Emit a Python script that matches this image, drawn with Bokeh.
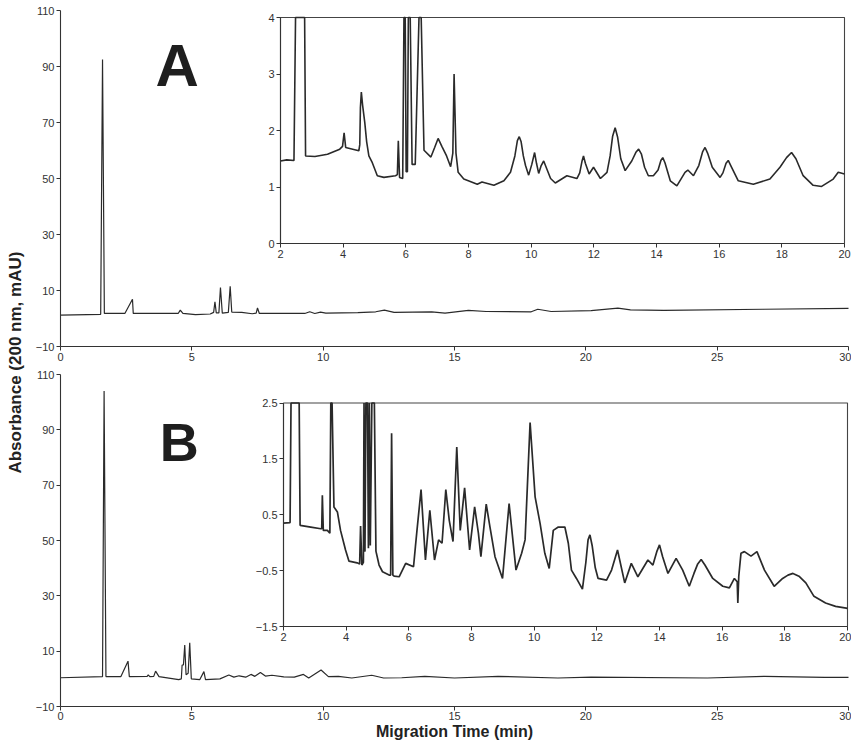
import math
from bokeh.plotting import figure
from bokeh.models import Range1d, LinearAxis, FixedTicker, Label
from bokeh.embed import file_html
from bokeh.resources import INLINE

# ---------------- data ----------------
# Panel A, full run (mAU)
A_main_time = [0.00, 1.53, 1.60, 1.67, 2.45, 2.74, 2.77, 4.48, 4.56, 4.66, 5.14, 5.70, 5.83,
               5.88, 5.93, 6.03, 6.09, 6.16, 6.39, 6.46, 6.52, 6.90, 7.30, 7.45, 7.50, 7.57,
               9.30, 9.49, 9.68, 9.90, 10.10, 11.32, 12.00, 12.33, 12.70, 14.13, 14.64, 15.53,
               16.20, 17.92, 18.17, 18.68, 20.20, 21.22, 21.70, 22.97, 26.77, 30.00]
A_main_abs = [1.2, 1.5, 92.5, 1.8, 1.8, 6.9, 1.8, 1.8, 3.0, 1.8, 1.4, 1.6, 2.2,
              6.0, 2.0, 2.0, 11.1, 1.9, 2.2, 11.5, 2.3, 2.2, 1.7, 1.9, 3.8, 1.8,
              1.8, 2.4, 1.8, 2.3, 1.9, 2.1, 2.4, 3.0, 2.2, 2.4, 1.9, 2.9,
              2.5, 2.4, 3.3, 2.5, 2.8, 3.7, 3.1, 2.9, 3.3, 3.6]

# Panel A inset (2-20 min, 0-4 mAU; off-scale peaks recorded at the top, 4)
A_inset_time = [2.00, 2.20, 2.43, 2.48, 2.77, 2.80, 3.10, 3.50, 3.89, 3.98, 4.03, 4.08, 4.50,
                4.53, 4.55, 4.58, 4.62, 4.69, 4.75, 4.82, 4.93, 5.09, 5.30, 5.67, 5.73, 5.76,
                5.80, 5.90, 5.94, 5.98, 6.01, 6.05, 6.08, 6.14, 6.20, 6.30, 6.42, 6.49, 6.58,
                6.80, 6.92, 7.03, 7.15, 7.30, 7.43, 7.50, 7.54, 7.60, 7.67, 7.85, 8.28, 8.43,
                8.81, 9.13, 9.34, 9.48, 9.56, 9.62, 9.68, 9.75, 9.82, 9.92, 10.02, 10.11, 10.17,
                10.24, 10.32, 10.40, 10.50, 10.62, 10.77, 11.14, 11.46, 11.55, 11.62, 11.67,
                11.73, 11.85, 11.99, 12.21, 12.42, 12.52, 12.60, 12.68, 12.76, 12.86, 13.00,
                13.21, 13.35, 13.43, 13.52, 13.62, 13.74, 13.90, 14.05, 14.14, 14.20, 14.27,
                14.44, 14.65, 14.91, 15.00, 15.18, 15.35, 15.47, 15.55, 15.63, 15.78, 16.03,
                16.12, 16.22, 16.29, 16.37, 16.61, 17.09, 17.62, 17.94, 18.15, 18.31, 18.45,
                18.68, 19.00, 19.27, 19.64, 19.80, 20.00]
A_inset_abs = [1.46, 1.48, 1.47, 4.00, 4.00, 1.55, 1.54, 1.58, 1.67, 1.72, 1.96, 1.70, 1.64,
               1.75, 2.40, 2.68, 2.45, 2.14, 1.80, 1.55, 1.43, 1.20, 1.17, 1.20, 1.22, 1.82,
               1.17, 1.15, 4.00, 4.00, 1.27, 1.27, 4.00, 4.00, 1.40, 1.40, 4.00, 4.00, 1.65,
               1.53, 1.70, 1.86, 1.72, 1.55, 1.36, 1.60, 3.00, 1.60, 1.26, 1.14, 1.05, 1.09,
               1.03, 1.11, 1.26, 1.55, 1.82, 1.89, 1.80, 1.55, 1.38, 1.21, 1.40, 1.61, 1.42,
               1.24, 1.38, 1.46, 1.32, 1.15, 1.07, 1.20, 1.15, 1.25, 1.45, 1.55,
               1.42, 1.23, 1.35, 1.15, 1.26, 1.55, 1.90, 2.05, 1.88, 1.50, 1.29,
               1.46, 1.62, 1.67, 1.58, 1.35, 1.20, 1.20, 1.30, 1.47, 1.52, 1.43,
               1.11, 1.02, 1.26, 1.30, 1.20, 1.38, 1.62, 1.70, 1.60, 1.35, 1.17,
               1.25, 1.42, 1.47, 1.38, 1.11, 1.05, 1.14, 1.35, 1.52, 1.61, 1.50,
               1.20, 1.03, 1.01, 1.14, 1.26, 1.23]

# Panel B, full run (mAU)
B_main_time = [0.00, 1.60, 1.66, 1.73, 2.30, 2.57, 2.62, 3.30, 3.34, 3.40, 3.55, 3.62, 3.75,
               4.50, 4.60, 4.63, 4.68, 4.73, 4.78, 4.86, 4.92, 4.98, 5.30, 5.46, 5.52, 6.07,
               6.41, 6.60, 6.80, 7.05, 7.25, 7.40, 7.61, 7.80, 8.05, 8.50, 8.90, 9.25, 9.45,
               9.92, 10.20, 10.58, 11.09, 11.85, 12.30, 12.99, 13.87, 15.00, 16.66, 18.94,
               20.20, 24.63, 26.80, 29.10, 30.00]
B_main_abs = [0.4, 0.8, 104.0, 0.8, 0.8, 6.4, 0.8, 0.9, 1.4, 0.8, 0.9, 2.8, 0.8,
              -0.3, 0.0, 5.0, 5.0, 12.2, 1.5, 2.0, 13.0, 0.0, -0.3, 2.6, -0.3, 0.0,
              1.4, 0.6, 1.1, 0.6, 1.6, 0.9, 2.3, 1.0, 1.3, 0.7, 0.6, 1.6, 0.3,
              3.2, 0.8, 0.9, 0.3, 1.3, 0.3, 0.4, 0.9, 0.3, 0.9, 0.3,
              0.6, 0.3, 0.9, 0.5, 0.5]

# Panel B inset (2-20 min, -1.5-2.5 mAU; off-scale peaks recorded at the top, 2.5)
B_inset_time = [2.00, 2.21, 2.24, 2.50, 2.53, 2.87, 3.19, 3.22, 3.24, 3.27, 3.40, 3.48, 3.51,
                3.55, 3.61, 3.72, 3.82, 3.98, 4.09, 4.35, 4.43, 4.46, 4.50, 4.55, 4.57, 4.60,
                4.63, 4.68, 4.71, 4.74, 4.77, 4.82, 4.90, 4.95, 5.05, 5.16, 5.37, 5.42, 5.45,
                5.49, 5.53, 5.69, 5.90, 6.15, 6.21, 6.26, 6.39, 6.53, 6.67, 6.82, 6.95, 7.06,
                7.18, 7.29, 7.41, 7.53, 7.64, 7.78, 7.94, 8.10, 8.22, 8.30, 8.47, 8.59, 8.75,
                8.99, 9.20, 9.42, 9.60, 9.71, 9.87, 10.03, 10.19, 10.34, 10.48, 10.61, 10.77,
                10.98, 11.09, 11.19, 11.35, 11.54, 11.65, 11.72, 11.78, 11.85, 11.95, 12.04,
                12.31, 12.47, 12.66, 12.89, 13.10, 13.31, 13.63, 13.79, 13.92, 14.00, 14.10,
                14.27, 14.53, 14.74, 14.95, 15.10, 15.22, 15.33, 15.45, 15.70, 16.02, 16.23,
                16.39, 16.48, 16.50, 16.53, 16.60, 16.71, 16.92, 17.11, 17.35, 17.66, 17.93,
                18.10, 18.26, 18.45, 18.67, 18.93, 19.30, 19.62, 19.96, 20.00]
B_inset_abs = [0.35, 0.36, 2.50, 2.50, 0.31, 0.28, 0.25, 0.25, 0.85, 0.22, 0.22, 0.17, 2.50,
               2.50, 0.64, 0.55, 0.22, -0.13, -0.33, -0.36, -0.38, 0.30, -0.40, -0.35, 2.50, -0.16,
               2.50, 2.50, -0.10, 2.50, -0.05, 2.50, 2.50, -0.15, -0.40, -0.52, -0.58, -0.58, 1.96,
               -0.58, -0.60, -0.61, -0.37, -0.43, -0.07, 0.22, 0.95, -0.31, 0.58, -0.31, 0.05, -0.01,
               0.95, 0.40, 0.02, 1.71, 0.22, 0.98, -0.13, 0.64, 0.17, -0.25, 0.69, 0.28, -0.25,
               -0.64, 0.70, -0.49, -0.19, 0.05, 2.15, 0.82, 0.34, -0.19, -0.46, 0.22, 0.28,
               0.28, -0.01, -0.49, -0.64, -0.83, -0.35, 0.05, 0.14, -0.05, -0.45, -0.64,
               -0.67, -0.49, -0.13, -0.72, -0.37, -0.61, -0.31, -0.40, -0.15, -0.04, -0.25,
               -0.55, -0.28, -0.49, -0.78, -0.55, -0.38, -0.30, -0.40, -0.64, -0.78, -0.81,
               -0.64, -0.70, -1.08, -0.60, -0.19, -0.16, -0.24, -0.16, -0.49, -0.78, -0.64,
               -0.58, -0.55, -0.60, -0.72, -0.96, -1.08, -1.14, -1.17, -1.18]

main_x_ticks = [0, 5, 10, 15, 20, 25, 30]
main_y_ticks = [-10, 10, 30, 50, 70, 90, 110]
inset_x_ticks = [2, 4, 6, 8, 10, 12, 14, 16, 18, 20]
A_inset_y_ticks = [0, 1, 2, 3, 4]
B_inset_y_ticks = [-1.5, -0.5, 0.5, 1.5, 2.5]

# ---------------- layout ----------------
# The frame fills the whole figure; every axis is placed with fixed_location.
W, H = 851, 740
PAGE = 8  # page margin; reference pixel = figure pixel + PAGE


def fx(px):  # reference-pixel x -> frame pixel from left
    return px - PAGE


def fy(py):  # reference-pixel y -> frame pixel from bottom
    return (H + PAGE) - py


def rng(a, b, pa, pb, size):
    s = (pb - pa) / (b - a)
    return Range1d(a - pa / s, a + (size - pa) / s)


FONT = "Liberation Sans"
INK = "#2a2a2a"

p = figure(width=W, height=H, output_backend="svg", toolbar_location=None,
           x_axis_location=None, y_axis_location=None,
           x_range=rng(0, 30, fx(68), fx(856), W),
           y_range=rng(-10, 110, fy(714), fy(382), H),
           min_border=0, min_border_left=0, min_border_right=0,
           min_border_top=0, min_border_bottom=0)
p.extra_y_ranges = {
    "ay": rng(-10, 110, fy(354), fy(18), H),
    "iay": rng(0, 4, fy(251), fy(25), H),
    "iby": rng(-1.5, 2.5, fy(634), fy(410.5), H),
}
p.extra_x_ranges = {
    "iax": rng(2, 20, fx(288), fx(852), W),
    "ibx": rng(2, 20, fx(291), fx(855), W),
}
p.grid.visible = False
p.outline_line_color = None
p.background_fill_color = "white"
p.border_fill_color = "white"


def add_axis(side, ticks, bounds, loc, tick_out=4, standoff=2, **ranges):
    ax = LinearAxis(fixed_location=loc, **ranges)
    ax.ticker = FixedTicker(ticks=ticks)
    ax.bounds = bounds
    ax.minor_tick_line_color = None
    ax.major_tick_out = tick_out
    ax.major_tick_in = 0
    ax.axis_line_color = "#333333"
    ax.axis_line_width = 1.1
    ax.major_tick_line_color = "#333333"
    ax.major_label_text_font = FONT
    ax.major_label_text_font_size = "11px"
    ax.major_label_text_color = "#333333"
    ax.major_label_standoff = standoff
    p.add_layout(ax, side)
    return ax


# inset boxes (drawn first, under the traces)
p.quad(left=[inset_x_ticks[0]], right=[inset_x_ticks[-1]],
       bottom=[A_inset_y_ticks[0]], top=[A_inset_y_ticks[-1]],
       x_range_name="iax", y_range_name="iay",
       fill_color="white", line_color="#444444", line_width=1.1)
p.quad(left=[inset_x_ticks[0]], right=[inset_x_ticks[-1]],
       bottom=[B_inset_y_ticks[0]], top=[B_inset_y_ticks[-1]],
       x_range_name="ibx", y_range_name="iby",
       fill_color="white", line_color="#444444", line_width=1.1)

# main axes: panel B (default ranges) and panel A ("ay")
add_axis("below", main_x_ticks, (0, 30), -10, tick_out=4, standoff=1)
add_axis("left", main_y_ticks, (-10, 110), 0)
add_axis("below", main_x_ticks, (0, 30), -10, y_range_name="ay")
add_axis("left", main_y_ticks, (-10, 110), 0, y_range_name="ay")

# inset axes
add_axis("below", inset_x_ticks, (2, 20), 0, x_range_name="iax", y_range_name="iay")
add_axis("left", A_inset_y_ticks, (0, 4), 2, x_range_name="iax", y_range_name="iay")
add_axis("below", inset_x_ticks, (2, 20), -1.5, x_range_name="ibx", y_range_name="iby")
add_axis("left", B_inset_y_ticks, (-1.5, 2.5), 2, x_range_name="ibx", y_range_name="iby")

# traces
p.line(A_main_time, A_main_abs, y_range_name="ay", line_color=INK, line_width=1.2)
p.line(B_main_time, B_main_abs, line_color=INK, line_width=1.2)
p.line(A_inset_time, A_inset_abs, x_range_name="iax", y_range_name="iay",
       line_color=INK, line_width=1.6)
p.line(B_inset_time, B_inset_abs, x_range_name="ibx", y_range_name="iby",
       line_color=INK, line_width=1.7)

# panel letters and axis titles
p.add_layout(Label(x=4.44, y=90.4, y_range_name="ay", text="A", text_font=FONT,
                   text_font_style="bold", text_font_size="60px", text_color="#1e1e1e",
                   text_align="center", text_baseline="alphabetic"))
p.add_layout(Label(x=4.52, y=85.6, text="B", text_font=FONT,
                   text_font_style="bold", text_font_size="54px", text_color="#1e1e1e",
                   text_align="center", text_baseline="alphabetic"))
p.add_layout(Label(x=-1.72, y=114.3, text="Absorbance (200 nm, mAU)", angle=math.pi / 2,
                   text_font=FONT, text_font_style="bold", text_font_size="17px",
                   text_color="#222222", text_align="center", text_baseline="middle"))
p.add_layout(Label(x=15.0, y=-19.0, text="Migration Time (min)",
                   text_font=FONT, text_font_style="bold", text_font_size="16px",
                   text_color="#222222", text_align="center", text_baseline="alphabetic"))

open("out.html", "w").write(file_html(p, INLINE))
